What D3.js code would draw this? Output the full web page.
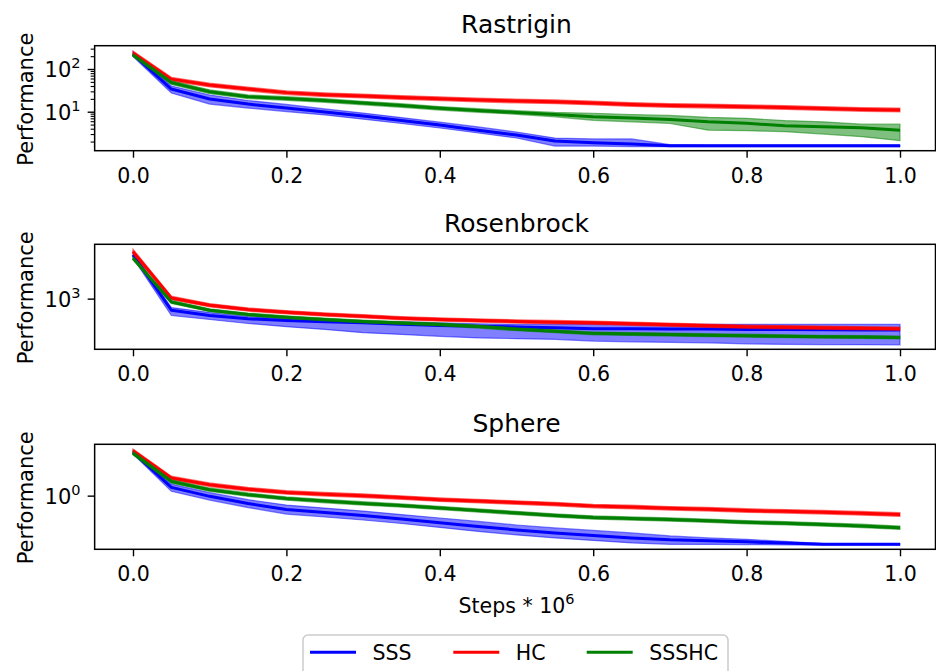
<!DOCTYPE html>
<html><head><meta charset="utf-8">
<script src="https://cdn.jsdelivr.net/npm/d3@7"></script>
<style>body{margin:0;background:#fff}svg{display:block;font-family:"DejaVu Sans",sans-serif}</style>
</head><body><svg id="c" width="936" height="671"></svg>
<script>
// ---------- DATA ----------
const steps = [0,0.05,0.1,0.15,0.2,0.25,0.3,0.35,0.4,0.45,0.5,0.55,0.6,0.65,0.7,0.75,0.8,0.85,0.9,0.95,1.0];
const seriesNames = ["SSS","HC","SSSHC"];
const titles = ["Rastrigin","Rosenbrock","Sphere"];
const xTicks = [0,0.2,0.4,0.6,0.8,1.0];
const xTickLabels = ["0.0","0.2","0.4","0.6","0.8","1.0"];

// Rastrigin
const rasSSS     = [224,34,19.8,15.1,12.2,9.8,7.9,6.2,4.9,3.7,2.85,2.06,1.88,1.75,1.60,1.60,1.60,1.60,1.60,1.60,1.60];
const rasSSSLo   = [196,27.4,15.1,12.2,10.1,8.4,6.7,5.3,4.15,3.17,2.42,1.57,1.57,1.53,1.52,1.53,1.53,1.53,1.53,1.53,1.53];
const rasSSSHi   = [257,40,24.6,18.3,14.8,11.6,9.3,7.3,5.7,4.4,3.35,2.42,2.3,2.3,1.69,1.66,1.66,1.66,1.66,1.66,1.66];
const rasHC      = [237,58,42,34,28,25,23.3,21.5,20.2,18.8,17.8,17.1,16.0,14.8,14.0,13.6,13.1,12.5,11.9,11.3,11.0];
const rasHCLo    = [210,52,38,30.6,25.2,22.5,21,19.4,18.2,16.9,16,15.4,14.4,13.3,12.6,12.2,11.8,11.3,10.7,10.2,9.9];
const rasHCHi    = [265,64,46.5,37.7,31,27.7,25.9,23.9,22.4,20.9,19.8,19,17.8,16.4,15.5,15.1,14.5,13.9,13.2,12.5,12.2];
const rasSSSHC   = [213,48,29.4,22.4,20.4,18.3,16.0,14.0,12.0,10.7,9.6,8.6,7.6,7.1,6.6,5.8,5.35,4.7,4.45,4.2,3.7];
const rasSSSHCLo = [198,43.5,26.5,20.3,18.5,16.6,14.5,12.7,10.9,9.7,8.7,7.6,6.3,5.8,5.3,3.7,3.6,3.4,3.0,2.6,2.1];
const rasSSSHCHi = [228,53,32.5,24.7,22.5,20.2,17.6,15.4,13.2,11.8,10.6,9.6,9.2,8.6,8.2,7.4,7.0,6.2,5.8,5.1,5.1];

// Rosenbrock
const rosSSS     = [1.7e8,40.7,9.6,3.9,2.44,1.71,1.30,0.89,0.62,0.51,0.41,0.33,0.25,0.245,0.239,0.226,0.208,0.197,0.187,0.177,0.172];
const rosSSSLo   = [7.4e7,9.6,3.2,1.07,0.44,0.208,0.084,0.053,0.031,0.020,0.0164,0.0135,0.0085,0.0068,0.0059,0.0052,0.0039,0.0034,0.0032,0.0031,0.003];
const rosSSSHi   = [3.8e8,85,21.7,7.3,3.9,2.8,2.0,1.62,1.23,0.99,0.82,0.82,0.82,0.82,0.82,0.82,0.82,0.82,0.82,0.82,0.82];
const rosHC      = [4.2e8,1210,160,49,23.6,12.6,7.9,4.57,3.2,2.44,1.85,1.53,1.30,0.99,0.75,0.57,0.44,0.38,0.33,0.29,0.25];
const rosHCLo    = [2.1e8,750,100,31,15,8.0,5.0,2.9,2.0,1.5,1.18,0.96,0.82,0.62,0.47,0.36,0.28,0.24,0.21,0.18,0.16];
const rosHCHi    = [8.5e8,1950,255,78,37,20,12.6,7.3,5.1,3.9,2.95,2.45,2.05,1.58,1.2,0.91,0.7,0.6,0.53,0.46,0.4];
const rosSSSHC   = [6.8e7,406,40.7,12.6,6.0,3.2,1.85,1.23,0.82,0.45,0.22,0.125,0.070,0.059,0.050,0.043,0.037,0.032,0.028,0.025,0.022];
const rosSSSHCLo = [4.5e7,270,27,8.4,4.0,2.1,1.23,0.82,0.55,0.30,0.145,0.083,0.047,0.039,0.033,0.029,0.025,0.021,0.019,0.017,0.015];
const rosSSSHCHi = [1.0e8,610,61,19,9.0,4.8,2.8,1.85,1.23,0.68,0.33,0.19,0.105,0.089,0.075,0.065,0.056,0.048,0.042,0.038,0.033];

// Sphere
const sphSSS     = [1.19e5,9.2,0.83,0.118,0.0237,0.0106,0.0048,0.00187,0.00067,0.00025,9.8e-5,4.4e-5,2.26e-5,1.16e-5,6.8e-6,5.2e-6,4.0e-6,2.9e-6,2.04e-6,2.04e-6,2.04e-6];
const sphSSSLo   = [7.6e4,3.2,0.30,0.040,0.0071,0.0032,0.00143,0.00056,1.92e-4,6.6e-5,2.6e-5,1.16e-5,5.9e-6,3.0e-6,2.04e-6,2.0e-6,1.93e-6,1.78e-6,1.69e-6,1.69e-6,1.69e-6];
const sphSSSHi   = [1.93e5,21.7,2.23,0.34,0.079,0.035,0.0158,0.0062,0.00244,0.00096,3.7e-4,1.68e-4,8.6e-5,4.4e-5,1.98e-5,1.16e-5,7.8e-6,4.5e-6,2.45e-6,2.45e-6,2.45e-6];
const sphHC      = [1.8e5,114,19,5.7,2.4,1.5,1.0,0.59,0.34,0.23,0.154,0.103,0.060,0.046,0.033,0.026,0.018,0.0146,0.0115,0.0086,0.0062];
const sphHCLo    = [1.1e5,70,11.5,3.4,1.45,0.9,0.6,0.36,0.21,0.14,0.094,0.063,0.036,0.028,0.02,0.0158,0.011,0.0089,0.007,0.0052,0.0037];
const sphHCHi    = [2.9e5,188,31,9.4,3.95,2.5,1.65,0.97,0.56,0.38,0.25,0.17,0.099,0.076,0.054,0.043,0.03,0.024,0.019,0.0142,0.0102];
const sphSSSHC   = [9.1e4,46,5.0,1.31,0.45,0.23,0.124,0.069,0.037,0.018,0.0093,0.0048,0.0028,0.0021,0.00163,0.00115,0.00079,0.00059,0.00043,0.00029,0.000177];
const sphSSSHCLo = [5.8e4,29,3.2,0.83,0.29,0.146,0.079,0.044,0.0235,0.0115,0.0059,0.0031,0.0018,0.00134,0.00104,0.00073,0.0005,0.00038,0.00027,0.000185,0.000113];
const sphSSSHCHi = [1.43e5,72,7.9,2.06,0.71,0.36,0.195,0.108,0.058,0.028,0.0146,0.0075,0.0044,0.0033,0.0026,0.0018,0.00124,0.00093,0.00068,0.00046,0.00028];

// axis limits (log) and labelled major ticks [base, exponent]
const rasLimits = [1.222, 351.6];
const rosLimits = [8.71e-4, 3.16e9];
const sphLimits = [5.37e-7, 1e6];
const rasMajor = [[10,1],[10,2]];
const rosMajor = [[10,3]];
const sphMajor = [[10,0]];

// ---------- LAYOUT ----------
const colors = ["#0000ff","#ff0000","#008000"];
const svg = d3.select("#c");
const x = d3.scaleLinear().domain([-0.05,1.05]).range([94.65,938.35]);
const plotL = 94.65, plotR = 935.5;
const panelTops = [45.7,244.3,444.3], panelH = 105;
const FS = 20.5;

const panels = [
  {lim:rasLimits, major:rasMajor, minor:true,
   s:[[rasSSS,rasSSSLo,rasSSSHi],[rasHC,rasHCLo,rasHCHi],[rasSSSHC,rasSSSHCLo,rasSSSHCHi]]},
  {lim:rosLimits, major:rosMajor, minor:false,
   s:[[rosSSS,rosSSSLo,rosSSSHi],[rosHC,rosHCLo,rosHCHi],[rosSSSHC,rosSSSHCLo,rosSSSHCHi]]},
  {lim:sphLimits, major:sphMajor, minor:false,
   s:[[sphSSS,sphSSSLo,sphSSSHi],[sphHC,sphHCLo,sphHCHi],[sphSSSHC,sphSSSHCLo,sphSSSHCHi]]}
];

panels.forEach((p,pi)=>{
  const top = panelTops[pi], bot = top+panelH;
  const y = d3.scaleLog().domain(p.lim).range([bot, top]);
  const g = svg.append("g");
  const cid = "clip"+pi;
  svg.append("clipPath").attr("id",cid).append("rect")
     .attr("x",plotL).attr("y",top).attr("width",plotR-plotL).attr("height",panelH);
  const dg = g.append("g").attr("clip-path",`url(#${cid})`);
  p.s.forEach((ser,si)=>{
    const [m,lo,hi] = ser;
    const pts = steps.map((t,i)=>({t, m:m[i], lo:lo[i], hi:hi[i]}));
    dg.append("path").datum(pts)
      .attr("d", d3.line().x(d=>x(d.t)).y(d=>y(d.m)))
      .attr("fill","none").attr("stroke",colors[si]).attr("stroke-width",3)
      .attr("stroke-linejoin","round");
    dg.append("path").datum(pts)
      .attr("d", d3.area().x(d=>x(d.t)).y0(d=>y(d.lo)).y1(d=>y(d.hi)))
      .attr("fill",colors[si]).attr("fill-opacity",0.5)
      .attr("stroke",colors[si]).attr("stroke-opacity",0.5).attr("stroke-width",1.2);
  });
  // frame
  g.append("rect").attr("x",plotL).attr("y",top).attr("width",plotR-plotL).attr("height",panelH)
   .attr("fill","none").attr("stroke","#000").attr("stroke-width",1.5);
  // x axis
  const xa = g.append("g").attr("transform",`translate(0,${bot})`)
    .call(d3.axisBottom(x).tickValues(xTicks).tickSize(7).tickSizeOuter(0)
          .tickFormat((d,i)=>xTickLabels[i]));
  xa.select(".domain").remove();
  xa.selectAll("line").attr("stroke","#000").attr("stroke-width",1.4);
  xa.selectAll("text").attr("y",32).attr("dy",0).attr("font-size",FS)
    .attr("font-family","DejaVu Sans").attr("fill","#000");
  // y minor ticks
  if (p.minor){
    const minors = y.ticks().filter(v=>Math.abs(Math.log10(v)-Math.round(Math.log10(v)))>1e-9);
    const ma = g.append("g").attr("transform",`translate(${plotL},0)`)
      .call(d3.axisLeft(y).tickValues(minors).tickSize(4).tickFormat(""));
    ma.select(".domain").remove();
    ma.selectAll("line").attr("stroke","#000").attr("stroke-width",1.1);
  }
  // y major ticks
  const majVals = p.major.map(d=>Math.pow(d[0],d[1]));
  const ya = g.append("g").attr("transform",`translate(${plotL},0)`)
    .call(d3.axisLeft(y).tickValues(majVals).tickSize(7).tickFormat(""));
  ya.select(".domain").remove();
  ya.selectAll("line").attr("stroke","#000").attr("stroke-width",1.4);
  p.major.forEach((mj,i)=>{
    const yy = y(majVals[i]);
    const t = g.append("text").attr("x",80.5).attr("y",yy+8).attr("text-anchor","end")
      .attr("font-size",21).attr("fill","#000");
    t.append("tspan").text(String(mj[0]));
    t.append("tspan").attr("font-size",14.5).attr("dy",-8.7).text(String(mj[1]));
  });
  // y label
  g.append("text").attr("transform",`translate(33,${top+panelH/2+1}) rotate(-90)`)
    .attr("text-anchor","middle").attr("font-size",21).attr("fill","#000").text("Performance");
  // title
  g.append("text").attr("x",(plotL+938.35)/2).attr("y",top-12.5).attr("text-anchor","middle")
    .attr("font-size",25).attr("fill","#000").text(titles[pi]);
});

// x label
const xl = svg.append("text").attr("x",(plotL+938.35)/2).attr("y",613).attr("text-anchor","middle")
  .attr("font-size",FS).attr("fill","#000");
xl.append("tspan").text("Steps * 10");
xl.append("tspan").attr("font-size",14.5).attr("dy",-8.7).text("6");

// legend
const lg = svg.append("g");
lg.append("rect").attr("x",303).attr("y",635).attr("width",425).attr("height",60).attr("rx",5)
  .attr("fill","#fff").attr("fill-opacity",0.8).attr("stroke","#cccccc").attr("stroke-width",1.5);
const legX = [310,453.3,586.7];
seriesNames.forEach((n,i)=>{
  lg.append("line").attr("x1",legX[i]).attr("x2",legX[i]+46).attr("y1",652.3).attr("y2",652.3)
    .attr("stroke",colors[i]).attr("stroke-width",3);
  lg.append("text").attr("x",legX[i]+62.5).attr("y",652.3+7.3).attr("font-size",FS)
    .attr("fill","#000").text(n);
});
</script></body></html>
